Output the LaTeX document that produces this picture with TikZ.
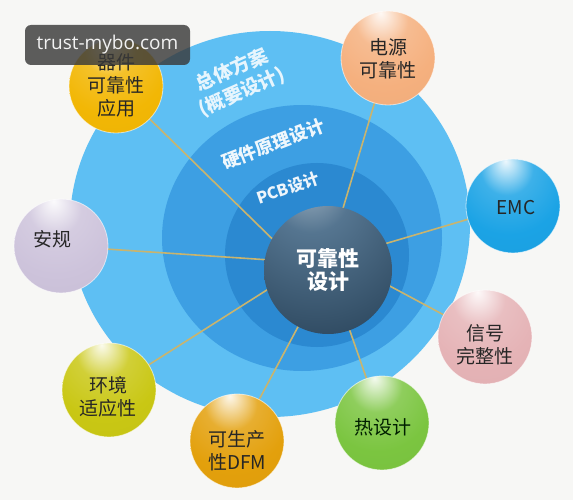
\documentclass[tikz,border=0pt]{standalone}
\usepackage{fontspec}
\setmainfont{Noto Sans CJK SC}
\newfontfamily\wmfont{Open Sans}
\definecolor{bgc}{HTML}{F7F7F5}
\definecolor{ringA}{HTML}{5EBFF3}
\definecolor{ringB}{HTML}{3D9FE3}
\definecolor{ringC}{HTML}{2B89D1}
\definecolor{linkc}{HTML}{C9B46E}
\definecolor{wmc}{HTML}{3A3A3A}
\definecolor{cQJ}{HTML}{F2B705}
\definecolor{cDY}{HTML}{F5B07E}
\definecolor{cEMC}{HTML}{1BA3E5}
\definecolor{cXH}{HTML}{E5B3B6}
\definecolor{cRS}{HTML}{7BC540}
\definecolor{cDFM}{HTML}{E3A00C}
\definecolor{cHJ}{HTML}{C9C714}
\definecolor{cAG}{HTML}{CDC3DB}
\definecolor{coreHi}{HTML}{D8E2EA}
\definecolor{coreMid}{HTML}{557590}
\definecolor{coreBase}{HTML}{2F4A61}
\definecolor{coreDark}{HTML}{1D2F40}
\colorlet{sph}{white}
\pgfdeclareradialshading[sph]{glossy}{\pgfqpoint{-4bp}{24bp}}{%
 color(0bp)=(sph!8!white);
 color(5bp)=(sph!35!white);
 color(14bp)=(sph!85!white);
 color(30bp)=(sph);
 color(62bp)=(sph!95!black);
 color(78bp)=(sph!85!black)}
\pgfdeclareradialshading{coreshade}{\pgfqpoint{-8bp}{36bp}}{%
 color(0bp)=(coreHi);
 color(5bp)=(coreMid!60!coreHi);
 color(15bp)=(coreMid);
 color(45bp)=(coreBase);
 color(85bp)=(coreDark)}
\pgfdeclarelayer{back}
\pgfdeclarelayer{mid}
\pgfdeclarelayer{front}
\pgfsetlayers{back,mid,main,front}
\tikzset{
 sat/.style={circle, minimum size=94pt, inner sep=0pt,
   /utils/exec={\colorlet{sph}{#1}}, shading=glossy,
   draw=white, draw opacity=0.6, line width=0.8pt},
 sattext/.style={align=center, text=black!85, inner sep=0pt,
   font=\fontsize{19}{23}\selectfont},
 ringtext/.style={align=center, text=white, inner sep=0pt},
 link/.style={draw=linkc, line width=1.6pt},
 corenode/.style={circle, minimum size=128pt, inner sep=0pt, shading=coreshade,
   text=white, align=center, font=\bfseries\fontsize{21}{23}\selectfont},
 wm/.style={fill=wmc, fill opacity=0.82, text opacity=1, text=white!95!black,
   rounded corners=6pt, minimum width=165pt, minimum height=40pt,
   inner sep=0pt, font=\wmfont\fontsize{19}{21}\selectfont}
}
\begin{document}
\begin{tikzpicture}[x=1pt,y=-1pt]
\begin{pgfonlayer}{back}
\fill[bgc] (0,0) rectangle (573,500);
\fill[ringA] (270,224) ellipse [x radius=200pt, y radius=193pt];
\fill[ringB] (302,238) ellipse [x radius=140pt, y radius=133pt];
\fill[ringC] (317,255) ellipse [x radius=92pt, y radius=92pt];
\end{pgfonlayer}
\useasboundingbox (0,0) rectangle (573,500);

% ring labels
\node[ringtext, rotate=24, text opacity=0.85, font=\bfseries\fontsize{19}{24}\selectfont] (zt) at (237,81) {总体方案\\(概要设计)};
\node[ringtext, rotate=21, text opacity=0.92, font=\bfseries\fontsize{18}{20}\selectfont] (yj) at (273,144) {硬件原理设计};
\node[ringtext, rotate=19, text opacity=0.92, font=\bfseries\fontsize{16}{18}\selectfont] (pcb) at (288,188) {PCB设计};

% centre sphere
\node[corenode] (core) at (328,270) {可靠性\\设计};

% satellites
\node[sat=cQJ] (qj) at (116,86) {};
\node[sat=cDY] (dy) at (388,58) {};
\node[sat=cEMC] (emc) at (513,206) {};
\node[sat=cXH] (xh) at (485,337) {};
\node[sat=cRS] (rs) at (382,423) {};
\node[sat=cDFM] (dfm) at (237,441) {};
\node[sat=cHJ] (hj) at (109,390) {};
\node[sat=cAG] (ag) at (61,246) {};

\node[sattext] (qj-t) at (116,85) {器件\\可靠性\\应用};
\node[sattext] (dy-t) at (388,59) {电源\\可靠性};
\node[sattext] (emc-t) at (516,208) {EMC};
\node[sattext] (xh-t) at (485,345) {信号\\完整性};
\node[sattext, text=black!80!green!60!black] (rs-t) at (383,427) {热设计};
\node[sattext] (dfm-t) at (237,451) {可生产\\性DFM};
\node[sattext] (hj-t) at (108,397) {环境\\适应性};
\node[sattext] (ag-t) at (52,239) {安规};

% connector aims (hidden under the centre sphere)
\coordinate (a-qj) at (300,266);
\coordinate (a-dy) at (326,265);
\coordinate (a-emc) at (330,260);
\coordinate (a-xh) at (330,254);
\coordinate (a-rs) at (327,265);
\coordinate (a-dfm) at (331,265);
\coordinate (a-hj) at (330,250);
\coordinate (a-ag) at (330,264);
\begin{pgfonlayer}{mid}
\foreach \s in {qj,dy,emc,xh,rs,dfm,hj,ag}
  \draw[link] (\s.center) -- (a-\s);
\end{pgfonlayer}

\begin{pgfonlayer}{front}
\node[wm] (wmark) at (107.5,45) {trust-mybo.com};
\end{pgfonlayer}
\end{tikzpicture}
\end{document}
